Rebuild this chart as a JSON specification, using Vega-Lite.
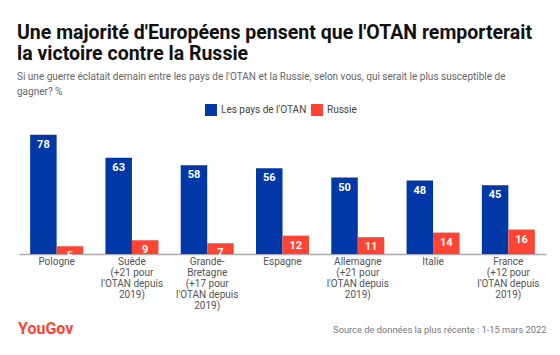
{
  "$schema": "https://vega.github.io/schema/vega-lite/v6.json",
  "width": 527,
  "height": 130,
  "padding": {"left": 17, "top": 22, "right": 15, "bottom": 10},
  "background": "white",
  "title": {
    "text": ["Une majorité d'Européens pensent que l'OTAN remporterait", "la victoire contre la Russie"],
    "subtitle": ["Si une guerre éclatait demain entre les pays de l'OTAN et la Russie, selon vous, qui serait le plus susceptible de", "gagner? %"],
    "anchor": "start",
    "font": "Roboto",
    "fontSize": 19.5,
    "fontWeight": "bold",
    "color": "#111111",
    "lineHeight": 21,
    "subtitleFont": "Roboto",
    "subtitleFontSize": 10,
    "subtitleColor": "#666666",
    "subtitleLineHeight": 15,
    "subtitlePadding": 8,
    "offset": 6,
    "dx": -1
  },
  "data": {
    "values": [
      {"pays": "Pologne", "serie": "Les pays de l'OTAN", "valeur": 78},
      {"pays": "Pologne", "serie": "Russie", "valeur": 5},
      {"pays": "Suède|(+21 pour|l'OTAN depuis|2019)", "serie": "Les pays de l'OTAN", "valeur": 63},
      {"pays": "Suède|(+21 pour|l'OTAN depuis|2019)", "serie": "Russie", "valeur": 9},
      {"pays": "Grande-|Bretagne|(+17 pour|l'OTAN depuis|2019)", "serie": "Les pays de l'OTAN", "valeur": 58},
      {"pays": "Grande-|Bretagne|(+17 pour|l'OTAN depuis|2019)", "serie": "Russie", "valeur": 7},
      {"pays": "Espagne", "serie": "Les pays de l'OTAN", "valeur": 56},
      {"pays": "Espagne", "serie": "Russie", "valeur": 12},
      {"pays": "Allemagne|(+21 pour|l'OTAN depuis|2019)", "serie": "Les pays de l'OTAN", "valeur": 50},
      {"pays": "Allemagne|(+21 pour|l'OTAN depuis|2019)", "serie": "Russie", "valeur": 11},
      {"pays": "Italie", "serie": "Les pays de l'OTAN", "valeur": 48},
      {"pays": "Italie", "serie": "Russie", "valeur": 14},
      {"pays": "France|(+12 pour|l'OTAN depuis|2019)", "serie": "Les pays de l'OTAN", "valeur": 45},
      {"pays": "France|(+12 pour|l'OTAN depuis|2019)", "serie": "Russie", "valeur": 16}
    ]
  },
  "encoding": {
    "x": {
      "field": "pays",
      "type": "nominal",
      "sort": null,
      "scale": {"paddingInner": 0.296, "paddingOuter": 0.148},
      "axis": {
        "title": "Source de données la plus récente : 1-15 mars 2022",
        "titleAnchor": "end",
        "titleFont": "Roboto",
        "titleFontSize": 9.3,
        "titleFontWeight": "normal",
        "titleColor": "#777777",
        "titlePadding": 15,
        "labelExpr": "split(datum.label, '|')",
        "labelAngle": 0,
        "labelFont": "Roboto",
        "labelFontSize": 10,
        "labelColor": "#555555",
        "labelLineHeight": 11,
        "labelPadding": 2,
        "labelBaseline": "top",
        "ticks": false,
        "domainColor": "#aaaaaa",
        "domainWidth": 1.5
      }
    },
    "xOffset": {"field": "serie", "type": "nominal", "scale": {"paddingInner": 0}},
    "y": {"field": "valeur", "type": "quantitative", "scale": {"domain": [0, 85]}, "axis": null}
  },
  "layer": [
    {
      "mark": {"type": "bar"},
      "encoding": {
        "color": {
          "field": "serie",
          "type": "nominal",
          "scale": {"domain": ["Les pays de l'OTAN", "Russie"], "range": ["#0038a8", "#ff4433"]},
          "legend": {
            "title": null,
            "orient": "none",
            "direction": "horizontal",
            "legendX": 186,
            "legendY": -20,
            "symbolType": "square",
            "symbolSize": 144,
            "symbolStrokeWidth": 0,
            "labelFont": "Roboto",
            "labelFontSize": 10,
            "labelColor": "#444444",
            "columnPadding": 4
          }
        }
      }
    },
    {
      "mark": {"type": "text", "baseline": "top", "dy": 4, "font": "Roboto", "fontSize": 11, "fontWeight": "bold", "color": "white"},
      "encoding": {"text": {"field": "valeur", "type": "quantitative"}}
    },
    {
      "data": {"values": [{"logo": "YouGov"}]},
      "mark": {"type": "text", "align": "left", "baseline": "middle", "font": "Roboto", "fontSize": 16, "fontWeight": "bold", "color": "#ff4433"},
      "encoding": {"text": {"field": "logo"}, "x": {"value": -1}, "y": {"value": 205}, "xOffset": null}
    }
  ],
  "config": {"view": {"stroke": null}}
}
